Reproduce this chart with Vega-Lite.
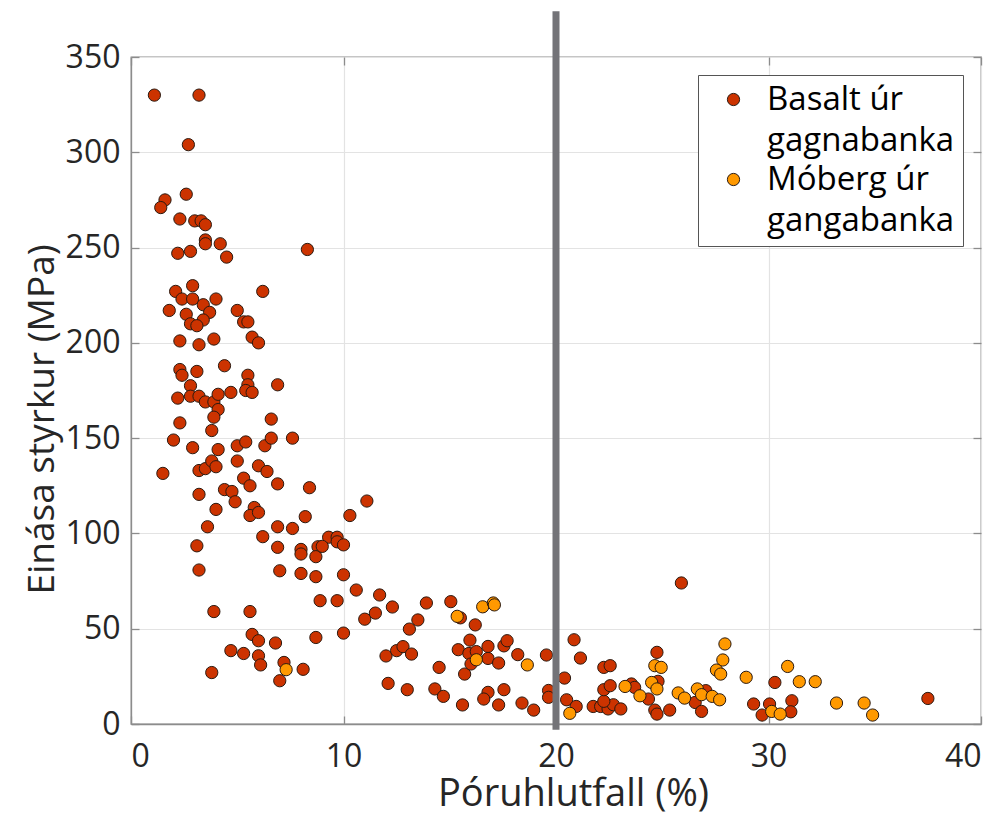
{
  "$schema": "https://vega.github.io/schema/vega-lite/v6.json",
  "width": 850,
  "height": 667,
  "autosize": {"type": "none"},
  "padding": {"left": 131, "top": 57, "right": 20, "bottom": 92},
  "background": "white",
  "config": {
    "font": "Open Sans",
    "view": {"stroke": "#8c8c8c", "strokeWidth": 1.3},
    "style": {"guide-label": {"lineHeight": 41}},
    "axis": {
      "labelFont": "Open Sans",
      "labelFontSize": 32,
      "labelColor": "#262626",
      "titleFont": "Open Sans",
      "titleFontWeight": "normal",
      "titleColor": "#262626",
      "domainColor": "#8c8c8c",
      "domainWidth": 1.3,
      "tickColor": "#8c8c8c",
      "tickWidth": 1.3,
      "gridColor": "#e3e3e3",
      "gridWidth": 1.2
    }
  },
  "datasets": {
    "pts": [
      {"x":1.1,"y":330,"g":"Basalt"},{"x":3.2,"y":330,"g":"Basalt"},{"x":2.7,"y":304,"g":"Basalt"},{"x":2.6,"y":278,"g":"Basalt"},{"x":1.6,"y":275,"g":"Basalt"},{"x":1.4,"y":271,"g":"Basalt"},{"x":2.3,"y":265,"g":"Basalt"},{"x":3.0,"y":264,"g":"Basalt"},{"x":3.3,"y":264,"g":"Basalt"},{"x":3.5,"y":262,"g":"Basalt"},{"x":3.5,"y":254,"g":"Basalt"},{"x":3.5,"y":252,"g":"Basalt"},{"x":4.2,"y":252,"g":"Basalt"},{"x":2.2,"y":247,"g":"Basalt"},{"x":2.8,"y":248,"g":"Basalt"},{"x":4.5,"y":245,"g":"Basalt"},{"x":8.3,"y":249,"g":"Basalt"},
      {"x":2.1,"y":227,"g":"Basalt"},{"x":2.9,"y":230,"g":"Basalt"},{"x":2.4,"y":223,"g":"Basalt"},{"x":2.9,"y":223,"g":"Basalt"},{"x":4.0,"y":223,"g":"Basalt"},{"x":3.4,"y":220,"g":"Basalt"},{"x":6.2,"y":227,"g":"Basalt"},{"x":1.8,"y":217,"g":"Basalt"},{"x":2.6,"y":215,"g":"Basalt"},{"x":3.7,"y":216,"g":"Basalt"},{"x":3.4,"y":212,"g":"Basalt"},{"x":2.8,"y":210,"g":"Basalt"},{"x":3.1,"y":209,"g":"Basalt"},{"x":5.0,"y":217,"g":"Basalt"},{"x":5.3,"y":211,"g":"Basalt"},{"x":5.5,"y":211,"g":"Basalt"},{"x":2.3,"y":201,"g":"Basalt"},{"x":3.2,"y":199,"g":"Basalt"},{"x":3.9,"y":202,"g":"Basalt"},{"x":5.7,"y":203,"g":"Basalt"},{"x":6.0,"y":200,"g":"Basalt"},
      {"x":2.3,"y":186,"g":"Basalt"},{"x":2.4,"y":183,"g":"Basalt"},{"x":3.1,"y":185,"g":"Basalt"},{"x":4.4,"y":188,"g":"Basalt"},{"x":5.5,"y":183,"g":"Basalt"},{"x":5.5,"y":178,"g":"Basalt"},{"x":6.9,"y":178,"g":"Basalt"},{"x":2.8,"y":177.5,"g":"Basalt"},{"x":2.2,"y":171,"g":"Basalt"},{"x":2.8,"y":172,"g":"Basalt"},{"x":3.2,"y":172,"g":"Basalt"},{"x":3.5,"y":169,"g":"Basalt"},{"x":3.9,"y":169,"g":"Basalt"},{"x":4.1,"y":173,"g":"Basalt"},{"x":4.7,"y":174,"g":"Basalt"},{"x":5.4,"y":175,"g":"Basalt"},{"x":5.7,"y":174,"g":"Basalt"},{"x":4.1,"y":165,"g":"Basalt"},{"x":3.9,"y":161,"g":"Basalt"},{"x":6.6,"y":160,"g":"Basalt"},{"x":2.3,"y":158,"g":"Basalt"},{"x":3.8,"y":154,"g":"Basalt"},{"x":2.0,"y":149,"g":"Basalt"},{"x":2.9,"y":145,"g":"Basalt"},{"x":4.1,"y":144,"g":"Basalt"},{"x":5.0,"y":146,"g":"Basalt"},{"x":5.4,"y":148,"g":"Basalt"},{"x":6.3,"y":146,"g":"Basalt"},{"x":6.6,"y":150,"g":"Basalt"},{"x":7.6,"y":150,"g":"Basalt"},
      {"x":1.5,"y":131.5,"g":"Basalt"},{"x":3.2,"y":133,"g":"Basalt"},{"x":3.5,"y":134,"g":"Basalt"},{"x":3.8,"y":138,"g":"Basalt"},{"x":4.0,"y":135,"g":"Basalt"},{"x":5.0,"y":138,"g":"Basalt"},{"x":6.0,"y":135.5,"g":"Basalt"},{"x":6.4,"y":132.5,"g":"Basalt"},{"x":5.3,"y":129,"g":"Basalt"},{"x":5.6,"y":125,"g":"Basalt"},{"x":6.9,"y":126,"g":"Basalt"},{"x":8.4,"y":124,"g":"Basalt"},{"x":3.2,"y":120.5,"g":"Basalt"},{"x":4.4,"y":123,"g":"Basalt"},{"x":4.75,"y":122,"g":"Basalt"},{"x":4.9,"y":116.6,"g":"Basalt"},{"x":4.0,"y":112.6,"g":"Basalt"},{"x":5.8,"y":113.6,"g":"Basalt"},{"x":5.6,"y":109.4,"g":"Basalt"},{"x":6.0,"y":111,"g":"Basalt"},{"x":8.2,"y":108.8,"g":"Basalt"},{"x":3.6,"y":103.5,"g":"Basalt"},{"x":6.9,"y":103.5,"g":"Basalt"},{"x":7.6,"y":102.6,"g":"Basalt"},{"x":6.2,"y":98.3,"g":"Basalt"},{"x":3.1,"y":93.5,"g":"Basalt"},{"x":6.9,"y":92.7,"g":"Basalt"},{"x":8.0,"y":91.6,"g":"Basalt"},{"x":8.0,"y":89.2,"g":"Basalt"},{"x":8.8,"y":93,"g":"Basalt"},{"x":8.7,"y":87.8,"g":"Basalt"},{"x":3.2,"y":80.8,"g":"Basalt"},{"x":7.0,"y":80.4,"g":"Basalt"},{"x":8.0,"y":79,"g":"Basalt"},{"x":8.7,"y":77.3,"g":"Basalt"},{"x":8.9,"y":64.7,"g":"Basalt"},{"x":3.9,"y":59,"g":"Basalt"},{"x":5.6,"y":59,"g":"Basalt"},{"x":8.7,"y":45.4,"g":"Basalt"},{"x":5.7,"y":47,"g":"Basalt"},{"x":6.0,"y":43.7,"g":"Basalt"},{"x":6.8,"y":42.5,"g":"Basalt"},{"x":4.7,"y":38.5,"g":"Basalt"},{"x":5.3,"y":37,"g":"Basalt"},{"x":6.0,"y":35.8,"g":"Basalt"},{"x":6.1,"y":31,"g":"Basalt"},{"x":7.2,"y":32.3,"g":"Basalt"},{"x":8.1,"y":28.7,"g":"Basalt"},{"x":3.8,"y":27,"g":"Basalt"},{"x":7.0,"y":22.7,"g":"Basalt"},
      {"x":11.1,"y":117,"g":"Basalt"},{"x":10.3,"y":109.4,"g":"Basalt"},{"x":9.3,"y":98,"g":"Basalt"},{"x":9.7,"y":98,"g":"Basalt"},{"x":9.7,"y":95.6,"g":"Basalt"},{"x":10.0,"y":94,"g":"Basalt"},{"x":9.0,"y":93.2,"g":"Basalt"},{"x":10.0,"y":78.3,"g":"Basalt"},{"x":10.6,"y":70.3,"g":"Basalt"},{"x":11.7,"y":67.7,"g":"Basalt"},{"x":9.7,"y":64.7,"g":"Basalt"},{"x":12.3,"y":61.4,"g":"Basalt"},{"x":11.5,"y":58.2,"g":"Basalt"},{"x":11.0,"y":55,"g":"Basalt"},{"x":13.9,"y":63.5,"g":"Basalt"},{"x":15.05,"y":64.2,"g":"Basalt"},{"x":15.5,"y":55.7,"g":"Basalt"},{"x":16.2,"y":52,"g":"Basalt"},{"x":13.5,"y":54.6,"g":"Basalt"},{"x":13.1,"y":49.8,"g":"Basalt"},{"x":10.0,"y":47.7,"g":"Basalt"},{"x":12.0,"y":35.7,"g":"Basalt"},{"x":12.5,"y":38.5,"g":"Basalt"},{"x":12.8,"y":40.6,"g":"Basalt"},{"x":13.2,"y":36.7,"g":"Basalt"},{"x":12.1,"y":21.3,"g":"Basalt"},{"x":13.0,"y":18,"g":"Basalt"},{"x":14.3,"y":18.4,"g":"Basalt"},{"x":14.7,"y":14.5,"g":"Basalt"},{"x":15.6,"y":10,"g":"Basalt"},{"x":14.5,"y":29.7,"g":"Basalt"},{"x":15.7,"y":26.2,"g":"Basalt"},{"x":15.4,"y":39,"g":"Basalt"},{"x":15.95,"y":44,"g":"Basalt"},{"x":15.9,"y":37,"g":"Basalt"},{"x":16.25,"y":38,"g":"Basalt"},{"x":16.0,"y":31.5,"g":"Basalt"},{"x":16.8,"y":40.7,"g":"Basalt"},{"x":16.8,"y":34.4,"g":"Basalt"},{"x":17.3,"y":32,"g":"Basalt"},{"x":17.55,"y":41,"g":"Basalt"},{"x":17.7,"y":43.7,"g":"Basalt"},{"x":18.2,"y":36.4,"g":"Basalt"},{"x":19.55,"y":36.2,"g":"Basalt"},{"x":16.8,"y":16.6,"g":"Basalt"},{"x":16.6,"y":13.1,"g":"Basalt"},{"x":17.55,"y":18,"g":"Basalt"},{"x":17.3,"y":10,"g":"Basalt"},{"x":18.4,"y":11,"g":"Basalt"},{"x":18.95,"y":7.3,"g":"Basalt"},{"x":19.65,"y":17.6,"g":"Basalt"},{"x":19.65,"y":14,"g":"Basalt"},
      {"x":25.9,"y":74,"g":"Basalt"},{"x":20.85,"y":44.2,"g":"Basalt"},{"x":21.15,"y":34.6,"g":"Basalt"},{"x":20.4,"y":24.1,"g":"Basalt"},{"x":20.5,"y":12.7,"g":"Basalt"},{"x":20.95,"y":9.2,"g":"Basalt"},{"x":21.75,"y":9.2,"g":"Basalt"},{"x":22.1,"y":9.2,"g":"Basalt"},{"x":22.45,"y":7.9,"g":"Basalt"},{"x":22.7,"y":10.1,"g":"Basalt"},{"x":23.05,"y":7.9,"g":"Basalt"},{"x":22.25,"y":11.9,"g":"Basalt"},{"x":22.25,"y":18,"g":"Basalt"},{"x":22.55,"y":20.1,"g":"Basalt"},{"x":22.25,"y":29.7,"g":"Basalt"},{"x":22.55,"y":30.6,"g":"Basalt"},{"x":23.55,"y":21,"g":"Basalt"},{"x":23.7,"y":19.2,"g":"Basalt"},{"x":24.35,"y":13.1,"g":"Basalt"},{"x":24.75,"y":37.6,"g":"Basalt"},{"x":24.8,"y":22.4,"g":"Basalt"},{"x":24.65,"y":7.3,"g":"Basalt"},{"x":24.75,"y":5.2,"g":"Basalt"},{"x":25.35,"y":7.3,"g":"Basalt"},{"x":26.55,"y":11.3,"g":"Basalt"},{"x":27.05,"y":17.5,"g":"Basalt"},{"x":26.85,"y":6.6,"g":"Basalt"},{"x":29.3,"y":10.5,"g":"Basalt"},{"x":29.7,"y":4.7,"g":"Basalt"},{"x":30.05,"y":10.5,"g":"Basalt"},{"x":30.3,"y":21.8,"g":"Basalt"},{"x":31.1,"y":12.2,"g":"Basalt"},{"x":31.05,"y":6.4,"g":"Basalt"},{"x":37.5,"y":13.4,"g":"Basalt"},
      {"x":7.3,"y":28.5,"g":"Móberg"},{"x":15.35,"y":56.5,"g":"Móberg"},{"x":16.55,"y":61.5,"g":"Móberg"},{"x":17.05,"y":63.5,"g":"Móberg"},{"x":17.1,"y":62.5,"g":"Móberg"},{"x":16.25,"y":33.7,"g":"Móberg"},{"x":18.65,"y":31,"g":"Móberg"},{"x":20.65,"y":5.6,"g":"Móberg"},{"x":23.25,"y":19.7,"g":"Móberg"},{"x":23.95,"y":14.8,"g":"Móberg"},{"x":24.65,"y":30.6,"g":"Móberg"},{"x":24.95,"y":29.7,"g":"Móberg"},{"x":24.5,"y":21.8,"g":"Móberg"},{"x":24.75,"y":18.4,"g":"Móberg"},{"x":25.75,"y":16.3,"g":"Móberg"},{"x":26.05,"y":13.6,"g":"Móberg"},{"x":26.65,"y":18.4,"g":"Móberg"},{"x":26.85,"y":15.4,"g":"Móberg"},{"x":27.35,"y":14.5,"g":"Móberg"},{"x":27.7,"y":12.7,"g":"Móberg"},{"x":27.95,"y":42,"g":"Móberg"},{"x":27.85,"y":33.6,"g":"Móberg"},{"x":27.55,"y":28.3,"g":"Móberg"},{"x":27.75,"y":26.2,"g":"Móberg"},{"x":28.95,"y":24.5,"g":"Móberg"},{"x":30.15,"y":6.6,"g":"Móberg"},{"x":30.9,"y":30.2,"g":"Móberg"},{"x":31.45,"y":22.2,"g":"Móberg"},{"x":32.2,"y":22.2,"g":"Móberg"},{"x":30.55,"y":5.2,"g":"Móberg"},{"x":33.2,"y":11,"g":"Móberg"},{"x":34.5,"y":11,"g":"Móberg"},{"x":34.9,"y":4.7,"g":"Móberg"}
    ],
    "line": [{"x": 20, "y": -3, "y2": 374}]
  },
  "layer": [
    {
      "data": {"name": "pts"},
      "mark": {"type": "circle", "size": 150, "opacity": 1, "stroke": "#2b1a10", "strokeWidth": 1},
      "encoding": {
        "x": {
          "field": "x", "type": "quantitative",
          "scale": {"domain": [0, 40], "nice": false, "zero": false},
          "axis": {"values": [0, 10, 20, 30, 40], "tickSize": -8, "labelPadding": 25, "title": "Póruhlutfall (%)", "titleFontSize": 38, "titlePadding": 3, "titleX": 442}
        },
        "y": {
          "field": "y", "type": "quantitative",
          "scale": {"domain": [0, 350], "nice": false, "zero": false},
          "axis": {"values": [0, 50, 100, 150, 200, 250, 300, 350], "tickSize": -8, "labelPadding": 19, "title": "Einása styrkur (MPa)", "titleFontSize": 37, "titlePadding": 4, "titleY": 362}
        },
        "fill": {
          "field": "g", "type": "nominal",
          "scale": {"domain": ["Basalt", "Móberg"], "range": ["#CC3300", "#FF9900"]},
          "legend": {
            "title": null,
            "orient": "none",
            "legendX": 567,
            "legendY": 18,
            "padding": 8,
            "rowPadding": 5,
            "strokeColor": "#555555",
            "fillColor": "white",
            "symbolType": "circle",
            "symbolSize": 150,
            "symbolStrokeColor": "#2b1a10",
            "symbolStrokeWidth": 1,
            "symbolOffset": 11,
            "labelOffset": 17,
            "labelFont": "Open Sans",
            "labelFontSize": 33,
            "labelColor": "#000000",
            "labelLimit": 400,
            "labelExpr": "datum.value == 'Basalt' ? ['Basalt úr', 'gagnabanka'] : ['Móberg úr', 'gangabanka']",
            "encode": {"labels": {"update": {"dy": {"value": 20}}}}
          }
        }
      }
    },
    {
      "data": {"name": "line"},
      "mark": {"type": "rule", "color": "#737378", "strokeWidth": 7},
      "encoding": {
        "x": {"field": "x", "type": "quantitative", "axis": {"orient": "top", "values": [0, 10, 20, 30, 40], "labels": false, "grid": false, "domain": false, "tickSize": -8, "title": null}},
        "y": {"field": "y", "type": "quantitative", "axis": {"orient": "right", "values": [0, 50, 100, 150, 200, 250, 300, 350], "labels": false, "grid": false, "domain": false, "tickSize": -8, "title": null}},
        "y2": {"field": "y2"}
      }
    }
  ],
  "resolve": {"axis": {"x": "independent", "y": "independent"}}
}
